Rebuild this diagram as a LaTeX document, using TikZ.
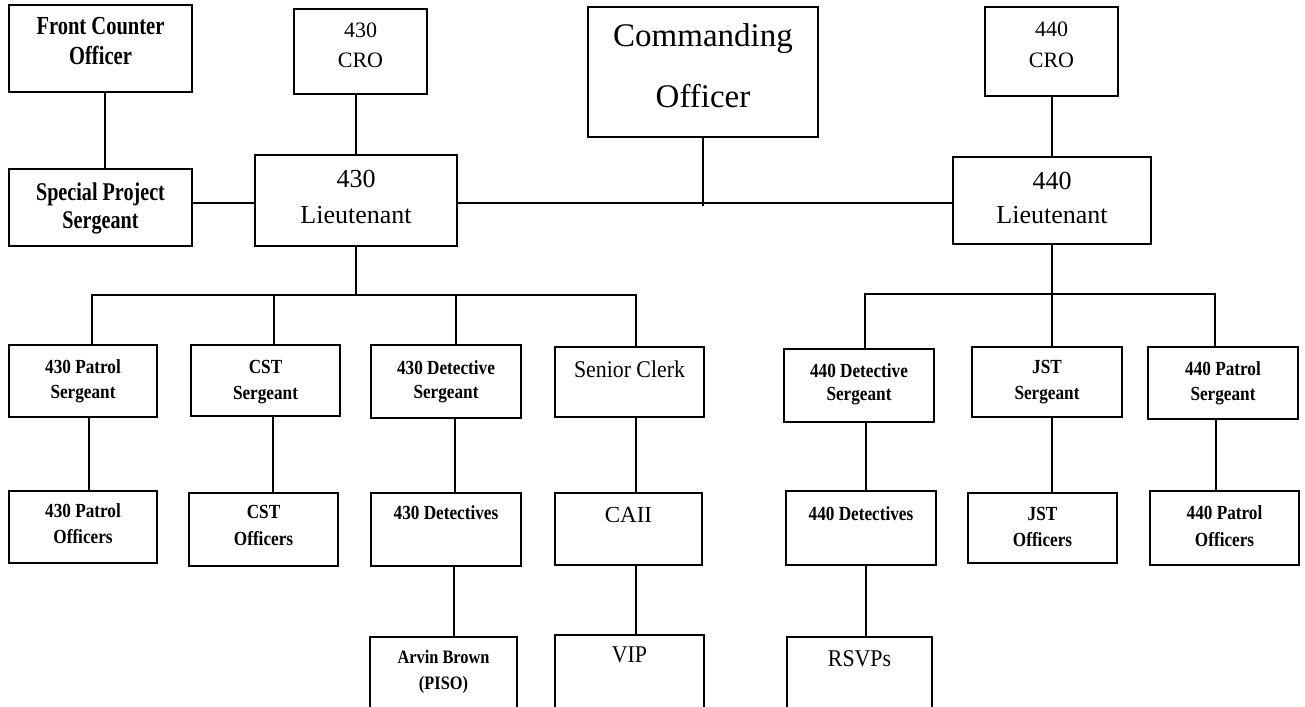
\documentclass[tikz,border=0pt]{standalone}
\usepackage{fontspec}
\setmainfont{Liberation Serif}
\newfontfamily\condA[FakeStretch=0.79]{Liberation Serif}
\newfontfamily\condB[FakeStretch=0.86]{Liberation Serif}
\newfontfamily\condC[FakeStretch=0.91]{Liberation Serif}
\newcommand\fsz[2]{\fontsize{#1}{#2}\selectfont}
\newcommand\orgbox[5]{\node[obox, minimum width={#4-#2}, minimum height={#5-#3}] (#1) at (#2,#3) {};}
\begin{document}
\begin{tikzpicture}[x=1pt,y=-1pt,
  obox/.style={draw, line width=1.5pt, inner sep=0pt, outer sep=0pt, anchor=north west},
  lbl/.style={align=center, inner sep=0pt, anchor=north},
  conn/.style={line width=1.3pt}]
\useasboundingbox (0,0) rectangle (1305,706);

% boxes
\orgbox{fco}{9}{5}{192}{92}
\orgbox{cro430}{294}{9}{427}{94}
\orgbox{co}{588}{7}{818}{137}
\orgbox{cro440}{985}{7}{1118}{96}
\orgbox{sps}{9}{169}{192}{246}
\orgbox{lt430}{255}{155}{457}{246}
\orgbox{lt440}{953}{157}{1151}{244}
\orgbox{ps430}{9}{345}{157}{417}
\orgbox{cstS}{191}{345}{340}{416}
\orgbox{ds430}{371}{345}{521}{418}
\orgbox{sc}{555}{347}{704}{417}
\orgbox{ds440}{784}{349}{934}{422}
\orgbox{jstS}{972}{347}{1122}{417}
\orgbox{ps440}{1148}{347}{1298}{419}
\orgbox{po430}{9}{491}{157}{563}
\orgbox{cstO}{189}{493}{338}{566}
\orgbox{det430}{371}{493}{521}{566}
\orgbox{caii}{555}{493}{702}{565}
\orgbox{det440}{786}{491}{936}{565}
\orgbox{jstO}{968}{493}{1117}{563}
\orgbox{po440}{1150}{491}{1299}{565}
\orgbox{arvin}{370}{637}{517}{720}
\orgbox{vip}{555}{635}{704}{720}
\orgbox{rsvps}{787}{637}{932}{720}

% labels
\node[lbl, font=\condA\bfseries\fsz{26}{30}] (fco-t) at (100.5,17) {Front Counter\\Officer};
\node[lbl, font=\fsz{22}{30}] (cro430-t) at (360.5,23) {430\\CRO};
\node[lbl, font=\fsz{33}{61}] (co-t) at (703,23) {Commanding\\Officer};
\node[lbl, font=\fsz{22}{31}] (cro440-t) at (1051.5,22) {440\\CRO};
\node[lbl, font=\condA\bfseries\fsz{25.5}{28}] (sps-t) at (100.5,183) {Special Project\\Sergeant};
\node[lbl, font=\fsz{26}{36}] (lt430-t) at (356,170) {430\\Lieutenant};
\node[lbl, font=\fsz{26}{34}] (lt440-t) at (1052,172) {440\\Lieutenant};

\node[lbl, font=\condB\bfseries\fsz{20}{25}] (ps430-t) at (83,359) {430 Patrol\\Sergeant};
\node[lbl, font=\condB\bfseries\fsz{20}{26}] (cstS-t) at (265.5,360) {CST\\Sergeant};
\node[lbl, font=\condB\bfseries\fsz{20}{24}] (ds430-t) at (446,360) {430 Detective\\Sergeant};
\node[lbl, font=\condC\fsz{24}{28}] (sc-t) at (629.5,361) {Senior Clerk};
\node[lbl, font=\condB\bfseries\fsz{20}{23}] (ds440-t) at (859,363) {440 Detective\\Sergeant};
\node[lbl, font=\condB\bfseries\fsz{20}{26}] (jstS-t) at (1047,360) {JST\\Sergeant};
\node[lbl, font=\condB\bfseries\fsz{20}{25}] (ps440-t) at (1223,361) {440 Patrol\\Sergeant};

\node[lbl, font=\condB\bfseries\fsz{20}{26}] (po430-t) at (83,503) {430 Patrol\\Officers};
\node[lbl, font=\condB\bfseries\fsz{20}{27}] (cstO-t) at (263.5,505) {CST\\Officers};
\node[lbl, font=\condB\bfseries\fsz{20}{26}] (det430-t) at (446,505) {430 Detectives};
\node[lbl, font=\fsz{23}{28}] (caii-t) at (628.5,507) {CAII};
\node[lbl, font=\condB\bfseries\fsz{20}{26}] (det440-t) at (861,506) {440 Detectives};
\node[lbl, font=\condB\bfseries\fsz{20}{26}] (jstO-t) at (1042.5,507) {JST\\Officers};
\node[lbl, font=\condB\bfseries\fsz{20}{27}] (po440-t) at (1224.5,505) {440 Patrol\\Officers};

\node[lbl, font=\condB\bfseries\fsz{19}{26}] (arvin-t) at (443.5,650) {Arvin Brown\\(PISO)};
\node[lbl, font=\condC\fsz{24}{28}] (vip-t) at (629.5,647) {VIP};
\node[lbl, font=\condC\fsz{24}{28}] (rsvps-t) at (859.5,650) {RSVPs};

% helper levels
\coordinate (midline) at (0,203);
\coordinate (bus430) at (0,295);
\coordinate (bus440) at (0,294);

% top connectors
\draw[conn] ([xshift=4.5]fco.south) -- ([xshift=4.5]sps.north);
\draw[conn] (lt430.north) -- (lt430.north |- cro430.south);
\draw[conn] (lt440.north) -- (lt440.north |- cro440.south);
\draw[conn] (sps.east |- midline) -- (lt430.west |- midline);
\draw[conn] (lt430.east |- midline) -- (lt440.west |- midline);
\draw[conn] (co.south) -- (co.south |- midline) -- ++(0,3);

% 430 tree
\draw[conn] (lt430.south) -- (lt430.south |- bus430);
\draw[conn] ([xshift=9]ps430.north) -- ([xshift=9]ps430.north |- bus430)
   -- ([xshift=6.5]sc.north |- bus430) -- ([xshift=6.5]sc.north);
\draw[conn] ([xshift=8.5]cstS.north) -- ([xshift=8.5]cstS.north |- bus430);
\draw[conn] ([xshift=10]ds430.north) -- ([xshift=10]ds430.north |- bus430);
\draw[conn] ([xshift=6]ps430.south) -- ([xshift=6]ps430.south |- po430.north);
\draw[conn] ([xshift=7.5]cstS.south) -- ([xshift=7.5]cstS.south |- cstO.north);
\draw[conn] ([xshift=9]ds430.south) -- ([xshift=9]ds430.south |- det430.north);
\draw[conn] ([xshift=6.5]sc.south) -- ([xshift=6.5]sc.south |- caii.north);
\draw[conn] ([xshift=8]det430.south) -- ([xshift=8]det430.south |- arvin.north);
\draw[conn] ([xshift=7.5]caii.south) -- ([xshift=7.5]caii.south |- vip.north);

% 440 tree
\draw[conn] (lt440.south) -- (lt440.south |- jstS.north);
\draw[conn] ([xshift=6]ds440.north) -- ([xshift=6]ds440.north |- bus440)
   -- ([xshift=-8]ps440.north |- bus440) -- ([xshift=-8]ps440.north);
\draw[conn] ([xshift=7]ds440.south) -- ([xshift=7]ds440.south |- det440.north);
\draw[conn] ([xshift=5]jstS.south) -- ([xshift=5]jstS.south |- jstO.north);
\draw[conn] ([xshift=-7]ps440.south) -- ([xshift=-7]ps440.south |- po440.north);
\draw[conn] ([xshift=5]det440.south) -- ([xshift=5]det440.south |- rsvps.north);
\end{tikzpicture}
\end{document}
